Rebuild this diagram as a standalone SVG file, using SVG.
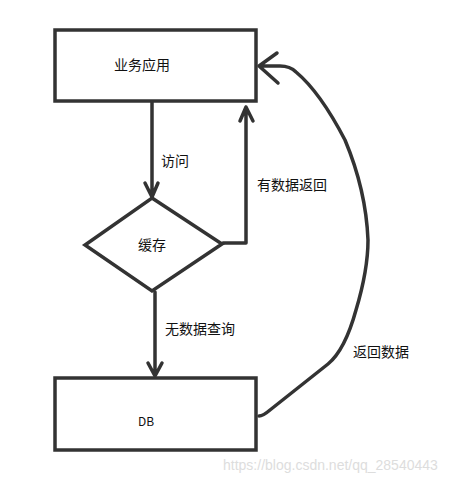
<svg xmlns="http://www.w3.org/2000/svg" width="475" height="483" viewBox="0 0 475 483">
<style>
.ln{fill:none;stroke:#333;stroke-width:3.5;stroke-linecap:round;stroke-linejoin:round}
.box{fill:#fff;stroke:#333;stroke-width:3.5}
.t{font-family:"Noto Sans CJK SC","Liberation Sans",sans-serif;font-size:14px;fill:#111}
.wm{font-family:"Liberation Sans",sans-serif;font-size:14px;fill:#ddd}
</style>
<rect width="475" height="483" fill="#fff"/>
<g id="app"><rect class="box" x="55" y="30" width="201" height="71"/><text class="t" x="142" y="70" text-anchor="middle">业务应用</text></g>
<g id="cache"><polygon class="box" points="152,198 222,244 152,291 85,245"/><text class="t" x="152" y="250" text-anchor="middle">缓存</text></g>
<g id="db"><rect class="box" x="55" y="378" width="201" height="72"/><text class="t" x="146" y="426" text-anchor="middle" style="font-size:12px">DB</text></g>
<g id="connectors">
<path class="ln" d="M152,102 L152,196 M145,183 L152,197 L158,183"/>
<text class="t" x="161" y="166">访问</text>
<path class="ln" d="M223,243 L246,243 L246,107 M240,121 L246,107 L253,121"/>
<text class="t" x="257" y="190">有数据返回</text>
<path class="ln" d="M155,292 L155,376 M148,363 L155,376 L162,363"/>
<text class="t" x="165" y="334">无数据查询</text>
<path class="ln" d="M259,416 Q263,416 270,410 L328,364 Q345,350 356,310 Q368,270 368,240 Q366,190 345,140 Q320,92 296,72 Q290,66 280,66 L259,66 M277,53 L259,66 L278,83"/>
<text class="t" x="353" y="357">返回数据</text>
</g>
<text class="wm" x="223" y="470">https://blog.csdn.net/qq_28540443</text>
</svg>
